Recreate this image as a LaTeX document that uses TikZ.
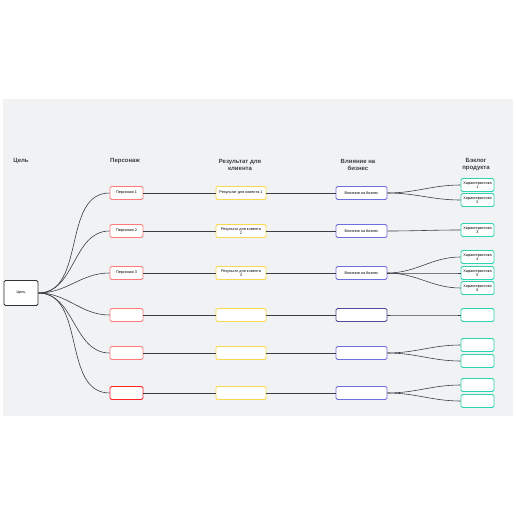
\documentclass[tikz,border=0pt]{standalone}
\usepackage{fontspec}
\setmainfont{Liberation Sans}
\definecolor{bgGray}{HTML}{F1F2F4}
\definecolor{lineC}{HTML}{3A3D45}
\definecolor{personaC}{HTML}{FF7B7B}
\definecolor{resultC}{HTML}{FDD84A}
\definecolor{impactC}{HTML}{7070DC}
\definecolor{backlogC}{HTML}{2ED3B3}
\begin{document}
\begin{tikzpicture}[x=1pt, y=-1pt,
  box/.style={draw, fill=white, line width=0.8pt, rounded corners=1.5pt, minimum height=13pt, inner sep=0.5pt, font=\fontsize{3.8}{4.2}\selectfont, align=center},
  persona/.style={box, draw=personaC, minimum width=33pt},
  result/.style={box, draw=resultC, minimum width=50pt},
  impact/.style={box, draw=impactC, minimum width=51pt},
  backlog/.style={box, draw=backlogC, minimum width=33pt},
  head/.style={font=\fontsize{6}{7}\selectfont\bfseries, text=lineC, align=center},
  conn/.style={draw=lineC, line width=0.6pt}]
  \useasboundingbox (0,0) rectangle (516,516);
  \fill[bgGray] (3,99) rectangle (513,416);
  % column headings
  \node[head] (hGoal) at (21,161) {Цель};
  \node[head] (hPersona) at (125,161) {Персонаж};
  \node[head] (hResult) at (240,165) {Результат для\\клиента};
  \node[head] (hImpact) at (358,165) {Влияние на\\бизнес};
  \node[head] (hBacklog) at (476,165) {Бэклог\\продукта};
  % goal
  \node[box, draw=black!80, minimum width=34pt, minimum height=25pt] (goal) at (21,293) {Цель};
  % row 1
  \node[persona] (p1) at (126.5,193) {Персонаж 1};
  \node[result] (r1) at (241,193) {Результат для клиента 1};
  \node[impact] (i1) at (361.5,193) {Влияние на бизнес};
  \node[backlog] (b1) at (477.5,185) {Характеристика\\1};
  \node[backlog] (b2) at (477.5,200) {Характеристика\\2};
  % row 2
  \node[persona] (p2) at (126.5,231) {Персонаж 2};
  \node[result] (r2) at (241,231) {Результат для клиента\\2};
  \node[impact] (i2) at (361.5,231) {Влияние на бизнес};
  \node[backlog] (b3) at (477.5,230) {Характеристика\\3};
  % row 3
  \node[persona] (p3) at (126.5,273) {Персонаж 3};
  \node[result] (r3) at (241,273) {Результат для клиента\\3};
  \node[impact] (i3) at (361.5,273) {Влияние на бизнес};
  \node[backlog] (b4) at (477.5,257) {Характеристика\\4};
  \node[backlog] (b5) at (477.5,273) {Характеристика\\5};
  \node[backlog] (b6) at (477.5,288) {Характеристика\\6};
  % rows 4-6, empty
  \node[persona] (p4) at (126.5,315) {};
  \node[result] (r4) at (241,315) {};
  \node[impact, draw=impactC!70!black] (i4) at (361.5,315) {};
  \node[backlog] (b7) at (477.5,315) {};
  \node[persona] (p5) at (126.5,353) {};
  \node[result] (r5) at (241,353) {};
  \node[impact] (i5) at (361.5,353) {};
  \node[backlog] (b8) at (477.5,345) {};
  \node[backlog] (b9) at (477.5,361) {};
  \node[persona, draw=red!85] (p6) at (126.5,393) {};
  \node[result] (r6) at (241,393) {};
  \node[impact] (i6) at (361.5,393) {};
  \node[backlog] (b10) at (477.5,385) {};
  \node[backlog] (b11) at (477.5,401) {};
  % connectors
  \path[conn] (goal.east) to[out=0, in=180] (p1.west);
  \path[conn] (goal.east) to[out=0, in=180] (p2.west);
  \path[conn] (goal.east) to[out=0, in=180] (p3.west);
  \path[conn] (goal.east) to[out=0, in=180] (p4.west);
  \path[conn] (goal.east) to[out=0, in=180] (p5.west);
  \path[conn] (goal.east) to[out=0, in=180] (p6.west);
  \path[conn] (p1) -- (r1) -- (i1);
  \path[conn] (p2) -- (r2) -- (i2);
  \path[conn] (p3) -- (r3) -- (i3);
  \path[conn] (p4) -- (r4) -- (i4);
  \path[conn] (p5) -- (r5) -- (i5);
  \path[conn] (p6) -- (r6) -- (i6);
  \path[conn] (i1.east) to[out=0, in=180] (b1.west);
  \path[conn] (i1.east) to[out=0, in=180] (b2.west);
  \path[conn] (i2.east) to[out=0, in=180] (b3.west);
  \path[conn] (i3.east) to[out=0, in=180] (b4.west);
  \path[conn] (i3.east) to[out=0, in=180] (b5.west);
  \path[conn] (i3.east) to[out=0, in=180] (b6.west);
  \path[conn] (i4.east) to[out=0, in=180] (b7.west);
  \path[conn] (i5.east) to[out=0, in=180] (b8.west);
  \path[conn] (i5.east) to[out=0, in=180] (b9.west);
  \path[conn] (i6.east) to[out=0, in=180] (b10.west);
  \path[conn] (i6.east) to[out=0, in=180] (b11.west);
\end{tikzpicture}
\end{document}
